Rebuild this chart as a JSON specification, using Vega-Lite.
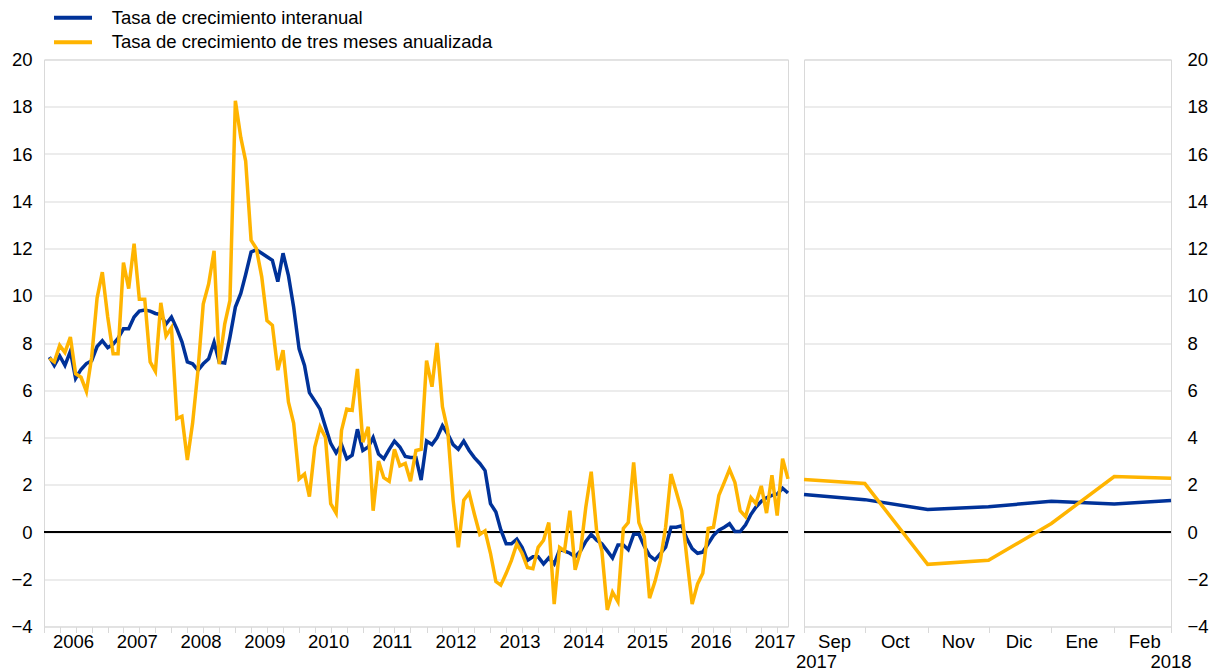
{
  "$schema": "https://vega.github.io/schema/vega-lite/v6.json",
  "background": "white",
  "padding": {"left": 10, "top": 5.5, "right": 7, "bottom": 0},
  "bounds": "flush",
  "spacing": 16,
  "config": {
    "font": "Liberation Sans",
    "view": {"stroke": "#d9d9d9", "strokeWidth": 1},
    "axis": {"labelFont": "Liberation Sans", "labelFontSize": 18.5, "labelColor": "#000000", "gridColor": "#d9d9d9", "gridWidth": 1, "domain": false, "tickColor": "#d9d9d9", "title": null}
  },
  "datasets": {
    "hist": [
      {"m":"2006-01","ia":7.4,"tm":7.35},{"m":"2006-02","ia":7.05,"tm":7.2},{"m":"2006-03","ia":7.45,"tm":7.9},{"m":"2006-04","ia":7.05,"tm":7.6},{"m":"2006-05","ia":7.65,"tm":8.25},{"m":"2006-06","ia":6.5,"tm":6.7},{"m":"2006-07","ia":6.88,"tm":6.55},{"m":"2006-08","ia":7.13,"tm":5.95},{"m":"2006-09","ia":7.25,"tm":7.4},{"m":"2006-10","ia":7.85,"tm":9.9},{"m":"2006-11","ia":8.1,"tm":11.0},{"m":"2006-12","ia":7.8,"tm":9.1},
      {"m":"2007-01","ia":7.95,"tm":7.55},{"m":"2007-02","ia":8.2,"tm":7.55},{"m":"2007-03","ia":8.6,"tm":11.4},{"m":"2007-04","ia":8.6,"tm":10.3},{"m":"2007-05","ia":9.1,"tm":12.2},{"m":"2007-06","ia":9.35,"tm":9.85},{"m":"2007-07","ia":9.4,"tm":9.85},{"m":"2007-08","ia":9.35,"tm":7.2},{"m":"2007-09","ia":9.25,"tm":6.8},{"m":"2007-10","ia":9.2,"tm":9.7},{"m":"2007-11","ia":8.8,"tm":8.3},{"m":"2007-12","ia":9.1,"tm":8.65},
      {"m":"2008-01","ia":8.6,"tm":4.8},{"m":"2008-02","ia":8.05,"tm":4.9},{"m":"2008-03","ia":7.2,"tm":3.05},{"m":"2008-04","ia":7.12,"tm":4.6},{"m":"2008-05","ia":6.85,"tm":6.85},{"m":"2008-06","ia":7.12,"tm":9.65},{"m":"2008-07","ia":7.33,"tm":10.5},{"m":"2008-08","ia":8.03,"tm":11.9},{"m":"2008-09","ia":7.19,"tm":7.1},{"m":"2008-10","ia":7.15,"tm":8.8},{"m":"2008-11","ia":8.25,"tm":9.8},{"m":"2008-12","ia":9.52,"tm":18.25},
      {"m":"2009-01","ia":10.1,"tm":16.7},{"m":"2009-02","ia":10.9,"tm":15.7},{"m":"2009-03","ia":11.85,"tm":12.35},{"m":"2009-04","ia":11.95,"tm":12.0},{"m":"2009-05","ia":11.8,"tm":10.8},{"m":"2009-06","ia":11.65,"tm":8.95},{"m":"2009-07","ia":11.5,"tm":8.75},{"m":"2009-08","ia":10.6,"tm":6.85},{"m":"2009-09","ia":11.8,"tm":7.7},{"m":"2009-10","ia":10.85,"tm":5.5},{"m":"2009-11","ia":9.5,"tm":4.6},{"m":"2009-12","ia":7.75,"tm":2.25},
      {"m":"2010-01","ia":7.05,"tm":2.45},{"m":"2010-02","ia":5.9,"tm":1.5},{"m":"2010-03","ia":5.55,"tm":3.6},{"m":"2010-04","ia":5.2,"tm":4.45},{"m":"2010-05","ia":4.45,"tm":4.0},{"m":"2010-06","ia":3.75,"tm":1.2},{"m":"2010-07","ia":3.35,"tm":0.8},{"m":"2010-08","ia":3.7,"tm":4.3},{"m":"2010-09","ia":3.1,"tm":5.2},{"m":"2010-10","ia":3.25,"tm":5.15},{"m":"2010-11","ia":4.35,"tm":6.9},{"m":"2010-12","ia":3.45,"tm":3.8},
      {"m":"2011-01","ia":3.6,"tm":4.45},{"m":"2011-02","ia":4.0,"tm":0.9},{"m":"2011-03","ia":3.3,"tm":3.0},{"m":"2011-04","ia":3.1,"tm":2.3},{"m":"2011-05","ia":3.5,"tm":2.15},{"m":"2011-06","ia":3.85,"tm":3.5},{"m":"2011-07","ia":3.6,"tm":2.8},{"m":"2011-08","ia":3.2,"tm":2.9},{"m":"2011-09","ia":3.15,"tm":2.15},{"m":"2011-10","ia":3.15,"tm":3.45},{"m":"2011-11","ia":2.2,"tm":3.5},{"m":"2011-12","ia":3.85,"tm":7.25},
      {"m":"2012-01","ia":3.7,"tm":6.15},{"m":"2012-02","ia":4.0,"tm":8.0},{"m":"2012-03","ia":4.5,"tm":5.3},{"m":"2012-04","ia":4.15,"tm":4.3},{"m":"2012-05","ia":3.7,"tm":1.35},{"m":"2012-06","ia":3.5,"tm":-0.65},{"m":"2012-07","ia":3.85,"tm":1.35},{"m":"2012-08","ia":3.45,"tm":1.65},{"m":"2012-09","ia":3.15,"tm":0.75},{"m":"2012-10","ia":2.9,"tm":-0.1},{"m":"2012-11","ia":2.6,"tm":0.05},{"m":"2012-12","ia":1.2,"tm":-0.9},
      {"m":"2013-01","ia":0.85,"tm":-2.1},{"m":"2013-02","ia":0.1,"tm":-2.25},{"m":"2013-03","ia":-0.5,"tm":-1.75},{"m":"2013-04","ia":-0.5,"tm":-1.2},{"m":"2013-05","ia":-0.3,"tm":-0.5},{"m":"2013-06","ia":-0.65,"tm":-0.9},{"m":"2013-07","ia":-1.2,"tm":-1.5},{"m":"2013-08","ia":-1.05,"tm":-1.55},{"m":"2013-09","ia":-1.05,"tm":-0.65},{"m":"2013-10","ia":-1.35,"tm":-0.35},{"m":"2013-11","ia":-1.1,"tm":0.4},{"m":"2013-12","ia":-1.35,"tm":-3.05},
      {"m":"2014-01","ia":-0.75,"tm":-0.65},{"m":"2014-02","ia":-0.8,"tm":-0.8},{"m":"2014-03","ia":-0.9,"tm":0.9},{"m":"2014-04","ia":-1.05,"tm":-1.6},{"m":"2014-05","ia":-0.8,"tm":-0.8},{"m":"2014-06","ia":-0.4,"tm":1.05},{"m":"2014-07","ia":-0.1,"tm":2.55},{"m":"2014-08","ia":-0.35,"tm":0.05},{"m":"2014-09","ia":-0.5,"tm":-0.8},{"m":"2014-10","ia":-0.8,"tm":-3.3},{"m":"2014-11","ia":-1.1,"tm":-2.55},{"m":"2014-12","ia":-0.55,"tm":-2.95},
      {"m":"2015-01","ia":-0.55,"tm":0.15},{"m":"2015-02","ia":-0.75,"tm":0.4},{"m":"2015-03","ia":-0.1,"tm":2.95},{"m":"2015-04","ia":-0.1,"tm":0.4},{"m":"2015-05","ia":-0.6,"tm":-0.2},{"m":"2015-06","ia":-1.0,"tm":-2.8},{"m":"2015-07","ia":-1.18,"tm":-2.1},{"m":"2015-08","ia":-0.92,"tm":-1.2},{"m":"2015-09","ia":-0.64,"tm":0.2},{"m":"2015-10","ia":0.2,"tm":2.45},{"m":"2015-11","ia":0.2,"tm":1.7},{"m":"2015-12","ia":0.26,"tm":0.9},
      {"m":"2016-01","ia":-0.3,"tm":-1.2},{"m":"2016-02","ia":-0.7,"tm":-3.05},{"m":"2016-03","ia":-0.9,"tm":-2.2},{"m":"2016-04","ia":-0.85,"tm":-1.75},{"m":"2016-05","ia":-0.5,"tm":0.15},{"m":"2016-06","ia":-0.15,"tm":0.2},{"m":"2016-07","ia":0.08,"tm":1.55},{"m":"2016-08","ia":0.2,"tm":2.1},{"m":"2016-09","ia":0.35,"tm":2.65},{"m":"2016-10","ia":0.02,"tm":2.1},{"m":"2016-11","ia":0.02,"tm":0.9},{"m":"2016-12","ia":0.3,"tm":0.65},
      {"m":"2017-01","ia":0.75,"tm":1.45},{"m":"2017-02","ia":1.05,"tm":1.2},{"m":"2017-03","ia":1.3,"tm":1.95},{"m":"2017-04","ia":1.45,"tm":0.8},{"m":"2017-05","ia":1.55,"tm":2.4},{"m":"2017-06","ia":1.6,"tm":0.7},{"m":"2017-07","ia":1.85,"tm":3.1},{"m":"2017-08","ia":1.65,"tm":2.25}
    ],
    "rec": [
      {"m":"2017-09-01","ia":1.59,"tm":2.22},
      {"m":"2017-10-01","ia":1.37,"tm":2.05},
      {"m":"2017-11-01","ia":0.95,"tm":-1.37},
      {"m":"2017-12-01","ia":1.07,"tm":-1.2},
      {"m":"2018-01-01","ia":1.3,"tm":0.36},
      {"m":"2018-02-01","ia":1.19,"tm":2.35},
      {"m":"2018-03-01","ia":1.33,"tm":2.27}
    ]
  },
  "hconcat": [
    {
      "width": 744,
      "height": 567,
      "data": {"name": "hist"},
      "layer": [
        {
          "mark": {"type": "rule", "color": "#000000", "strokeWidth": 1},
          "encoding": {"y": {"datum": 0, "type": "quantitative"}}
        },
        {
          "transform": [{"fold": ["ia", "tm"], "as": ["serie", "valor"]}],
          "mark": {"type": "line", "strokeWidth": 3.5},
          "encoding": {
            "x": {
              "field": "m", "type": "temporal", "timeUnit": "utcyearmonth", "bandPosition": 1,
              "scale": {"domain": [{"year": 2006, "month": 1, "date": 1, "utc": true}, {"year": 2017, "month": 9, "date": 1, "utc": true}]},
              "axis": {
                "tickCount": {"interval": "month", "step": 3},
                "labelExpr": "utcmonth(datum.value) == 0 ? utcFormat(datum.value, '%Y') : ''",
                "labelOffset": 29, "labelAlign": "center", "labelFlush": false, "labelOverlap": false, "labelBound": false,
                "ticks": true, "tickSize": 6, "labelPadding": 0, "grid": false, "domain": false, "title": null
              }
            },
            "y": {
              "field": "valor", "type": "quantitative",
              "scale": {"domain": [-4, 20], "nice": false, "zero": false},
              "axis": {"values": [-4, -2, 0, 2, 4, 6, 8, 10, 12, 14, 16, 18, 20], "grid": true, "ticks": false, "domain": false, "labelPadding": 12, "title": null}
            },
            "color": {
              "field": "serie", "type": "nominal",
              "scale": {"domain": ["ia", "tm"], "range": ["#003299", "#FFB400"]},
              "legend": {
                "labelExpr": "datum.value == 'ia' ? 'Tasa de crecimiento interanual' : 'Tasa de crecimiento de tres meses anualizada'",
                "orient": "none", "legendX": 17.5, "legendY": -53.3, "direction": "vertical",
                "symbolType": "M-2,0H2", "symbolSize": 361, "symbolStrokeWidth": 4,
                "labelFontSize": 18.5, "labelFont": "Liberation Sans", "labelColor": "#000000",
                "labelOffset": 27.2, "rowPadding": 3.5, "padding": 0, "title": null, "labelLimit": 800
              }
            }
          }
        }
      ]
    },
    {
      "width": 367,
      "height": 567,
      "layer": [
        {
          "data": {"name": "rec"},
          "mark": {"type": "rule", "color": "#000000", "strokeWidth": 1},
          "encoding": {"y": {"datum": 0, "type": "quantitative"}}
        },
        {
          "data": {"name": "rec"},
          "transform": [{"fold": ["ia", "tm"], "as": ["serie", "valor"]}],
          "mark": {"type": "line", "strokeWidth": 3.5},
          "encoding": {
            "x": {
              "field": "m", "type": "temporal",
              "scale": {"type": "utc", "domain": [{"year": 2017, "month": 9, "date": 1, "utc": true}, {"year": 2018, "month": 3, "date": 1, "utc": true}]},
              "axis": {
                "tickCount": {"interval": "month", "step": 1},
                "labelExpr": "utcmonth(datum.value) == 2 ? '' : ['Ene','Feb','Mar','Abr','May','Jun','Jul','Ago','Sep','Oct','Nov','Dic'][utcmonth(datum.value)]",
                "labelOffset": 30, "labelAlign": "center", "labelFlush": false, "labelOverlap": false, "labelBound": false,
                "ticks": true, "tickSize": 6, "labelPadding": 0, "grid": false, "domain": false, "title": null
              }
            },
            "y": {
              "field": "valor", "type": "quantitative",
              "scale": {"domain": [-4, 20], "nice": false, "zero": false},
              "axis": {"orient": "right", "values": [-4, -2, 0, 2, 4, 6, 8, 10, 12, 14, 16, 18, 20], "grid": true, "ticks": false, "domain": false, "labelPadding": 16, "title": null}
            },
            "color": {
              "field": "serie", "type": "nominal",
              "scale": {"domain": ["ia", "tm"], "range": ["#003299", "#FFB400"]},
              "legend": {
                "labelExpr": "datum.value == 'ia' ? 'Tasa de crecimiento interanual' : 'Tasa de crecimiento de tres meses anualizada'",
                "orient": "none", "legendX": 17.5, "legendY": -53.3, "direction": "vertical",
                "symbolType": "M-2,0H2", "symbolSize": 361, "symbolStrokeWidth": 4,
                "labelFontSize": 18.5, "labelFont": "Liberation Sans", "labelColor": "#000000",
                "labelOffset": 27.2, "rowPadding": 3.5, "padding": 0, "title": null, "labelLimit": 800
              }
            }
          }
        },
        {
          "data": {"values": [{"m": "2017-09-01", "t": "2017"}]},
          "mark": {"type": "text", "align": "left", "baseline": "alphabetic", "dx": -8, "dy": 41.6, "fontSize": 18.5, "font": "Liberation Sans", "color": "#000000"},
          "encoding": {
            "x": {"field": "m", "type": "temporal"},
            "y": {"datum": -4, "type": "quantitative"},
            "text": {"field": "t"}
          }
        },
        {
          "data": {"values": [{"m": "2018-03-01", "t": "2018"}]},
          "mark": {"type": "text", "align": "center", "baseline": "alphabetic", "dy": 41.6, "fontSize": 18.5, "font": "Liberation Sans", "color": "#000000"},
          "encoding": {
            "x": {"field": "m", "type": "temporal"},
            "y": {"datum": -4, "type": "quantitative"},
            "text": {"field": "t"}
          }
        }
      ]
    }
  ]
}
